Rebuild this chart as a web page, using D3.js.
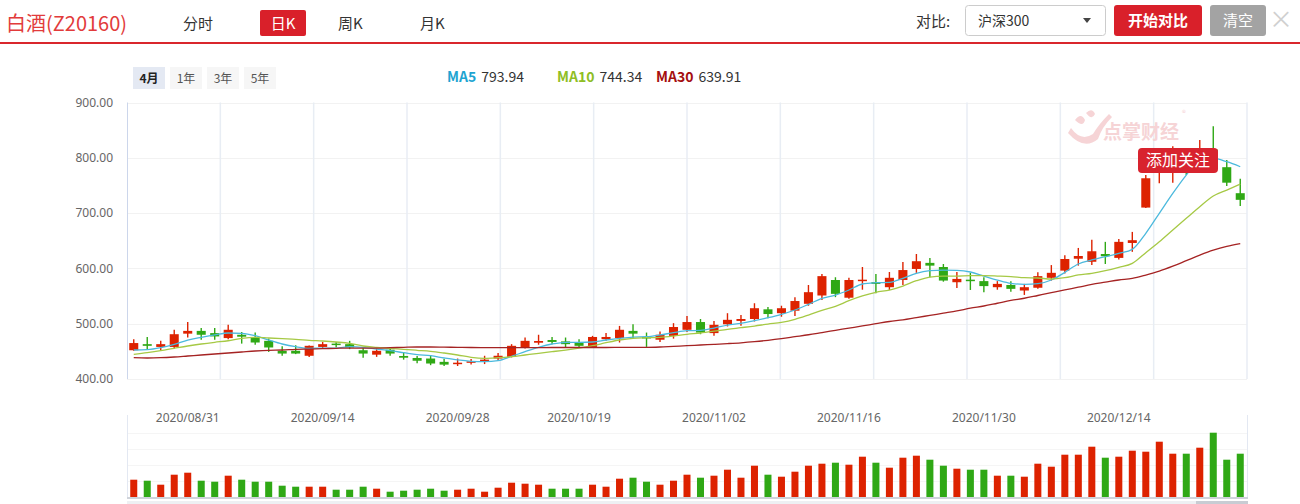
<!DOCTYPE html>
<html>
<head>
<meta charset="utf-8">
<script src="https://cdn.jsdelivr.net/npm/d3@7"></script>
<style>
body { margin: 0; background: #fff; font-family: "Noto Sans CJK SC", "Microsoft YaHei", sans-serif; }
svg { display: block; }
</style>
</head>
<body>
<svg width="1300" height="504"></svg>
<script>
// trading days shown (2020)
var dates = ["08/25","08/26","08/27","08/28","08/31",
    "09/01","09/02","09/03","09/04","09/07","09/08","09/09","09/10","09/11","09/14","09/15","09/16","09/17","09/18",
    "09/21","09/22","09/23","09/24","09/25","09/28","09/29","09/30",
    "10/09","10/12","10/13","10/14","10/15","10/16","10/19","10/20","10/21","10/22","10/23","10/26","10/27","10/28","10/29","10/30",
    "11/02","11/03","11/04","11/05","11/06","11/09","11/10","11/11","11/12","11/13","11/16","11/17","11/18","11/19","11/20",
    "11/23","11/24","11/25","11/26","11/27","11/30",
    "12/01","12/02","12/03","12/04","12/07","12/08","12/09","12/10","12/11","12/14","12/15","12/16","12/17","12/18",
    "12/21","12/22","12/23","12/24","12/25"];

var opens  = [452,463,458,458,482,487,483,474,480,475, 469,451,451,442,458,464,463,452,444,453,
              441.6,438,437,431,428.4,430,431,437,440,457, 465.6,470.5,468,466,458,472,474,487,476,471,
              478,489,503,483,499,505,508.5,526,519,523.5, 536,551,579,547,577,575,566,579,599,610,
              602.5,575,579.6,577,566,570,560,565,583,596, 617.5,612,626,619,646,710,780,785,812,790,
              815,783,736];
var closes = [465,460,463,481,487,480,477,489,476.5,466, 457,446,446,460,463,462,457,446,451,446,
              438.5,433,428,426,429.5,432,435,442,460,469, 468.7,467,463,460,476,476,489,482,474,480,
              494,503,484,498,507,508.5,528,517.5,528,541, 557,586,554,579,579.6,572,583,597,613,605,
              578,581,577.7,568,572,563,566,586,592,617, 622.4,631,622,648,651,763,805,810,785,812,
              790,755,724];
var highs  = [472,476,469,489,503,492,492,498,485,484, 473,459,461,460.5,467,467,469,457,455,458,
              448,441.6,443,436,437,436,442,447,463,475, 480,476,475,472,478,483,496,499,484,486,
              501,514,508.5,505,519,515.7,537,530,532.5,548, 570,590,584,583,602.5,590,593.5,611.5,626,619,
              608,593.5,592,584,577,576.6,572,593,606,624, 637,652,648,653,666,769,815,821,816,832,
              857,796,762];
var lows   = [451,454,452,455,475,471,471,472,464,462, 449,442,445,440,455.5,457,454,438.5,440,442,
              435,428.4,425,423.5,423.5,426,427,433,439,455, 462,463,457,457,457,469,466,473,458,467,
              473,485,481,478,495,496.4,504,510,512.6,514, 532.5,543,548,545,561.5,555,561,570,592,584,
              576,564.5,561,557,561.5,557.8,552,563,578,591, 605,606,608,616,630,709,754,755,769,780,
              785,749,713];
var volumes = [17.3,16.3,12.3,22.3,24.3,16.3,15.3,21.3,17.3,15.3, 15.3,11.3,10.3,10.3,10.3,7.3,7.3,10.3,8.3,5.3,
               6.3,7.3,8.3,6.3,7.3,8.3,5.3,9.3,14.3,13.3, 12.3,8.3,8.3,8.3,12.3,10.3,18.3,19.3,15.3,12.3,
               16.3,22.3,19.3,21.3,27.3,19.3,31.3,22.3,20.3,25.3, 31.3,33.3,34.3,32.3,40.3,34.3,29.3,39.3,41.3,37.3,
               31.3,28.3,27.3,27.3,21.3,21.3,20.3,33.3,30.3,42.3, 42.3,50.3,39.3,40.3,46.3,45.3,55.3,43.3,43.3,49.3,
               64.3,37.3,43.3];

var ma5  = [452.4,453,456.6,462.7,470.5,475.4,479.6,483.2,482.6,478.3, 470.5,463.3,458.4,455.5,456,456,458.4,457.3,454.2,451.2,
            447.6,444,442.1,438,434.4,432,431.3,433.1,441,449.4, 457.3,463.3,466.4,466.4,466.9,470.5,473.6,475.9,476.5,479.6,
            483.8,487.3,488,492.2,497.6,500.7,505.4,510.8,517,524.8, 535,545.9,551.8,560.9,571.8,574.1,574.8,582,591.1,595.8,
            597,596.5,593.5,586.2,579,573,571.2,572.3,579,592.9, 607.9,615.2,621.1,627.3,634.5,663.4,699.6,735.7,768.8,796,
            798.8,792.9,783.8];
var ma10 = [444.6,447.6,451.2,455.5,459.7,463.3,466.4,469.2,473.6,475.4, 474.1,472.9,471.8,470,468.7,466.9,464.5,459.7,457.3,455.5,
            453.7,451.9,450.1,447,443.4,439.2,437.4,438.5,440.3,443.4, 446.5,449.4,452.4,456,460.2,465.6,470.5,473.6,474.7,475.4,
            477.7,480.8,483.2,486.4,489.9,492.8,495.8,499.4,502.5,507.9, 515.7,524.2,531.4,541.6,550.1,556.8,560.9,568.1,577.7,584.4,
            586.2,586.2,586.8,586.8,586.2,585.3,583.2,582.6,580.8,583.2, 588.1,591.1,595.8,602,609.2,628.4,648.2,669.4,690.5,711.5,
            730.9,741.7,752.6];
var ma30 = [438.5,438,438.5,439.8,441.6,443.4,445.2,447,448.8,450.6, 451.9,452.4,453.7,454.2,454.8,455.5,456,456,456,456.6,
            457.3,457.9,457.9,457.6,457.3,457,456.8,456.6,456.6,456.6, 456.8,457,457,457,457,457,457.2,457.3,457.3,457.9,
            459.1,460.2,461.5,462.7,464,465.5,467.5,470,473,476.5, 480,484,488,492,496,500,504,507,511,515,
            519,523,528,532,537,542,546,551,556,561, 566,571,575,579,582,588,595,604,614,624,
            633,640,645];

var yTicks = [400, 500, 600, 700, 800, 900];
var dateTicks = ["08/31", "09/14", "09/28", "10/19", "11/02", "11/16", "11/30", "12/14"];
var maNames = ["MA5", "MA10", "MA30"];
var maLegendValues = ["793.94", "744.34", "639.91"];
var maSeries = [ma5, ma10, ma30];

var RED = "#dd2200", GREEN = "#2fa815";
var maText = ["#1ea4d1", "#8fbe24", "#a50f0f"],
    maLine = ["#4bb9dd", "#a6c945", "#a52323"];

var svg = d3.select("svg");

var left = 127, right = 1247;

var x = d3.scaleBand().domain(dates).range([left, right]).paddingInner(0.33).paddingOuter(0.165),
    xv = d3.scaleBand().domain(dates).range([left, right]).paddingInner(0.48).paddingOuter(0.24),
    y = d3.scaleLinear().domain([400, 900]).range([379, 102.5]),
    yv = d3.scaleLinear().domain([0, 80]).range([497, 417]);

function cx(d) { return x(d) + x.bandwidth() / 2; }

// ---------- header ----------
svg.append("text").attr("x", 6).attr("y", 31).attr("font-size", 20).attr("fill", "#e23b3b").text("白酒(Z20160)");
svg.append("text").attr("x", 183).attr("y", 29).attr("font-size", 15).attr("fill", "#333").text("分时");
svg.append("rect").attr("x", 260).attr("y", 10).attr("width", 46).attr("height", 26).attr("rx", 2).attr("fill", "#d9202a");
svg.append("text").attr("x", 283).attr("y", 29).attr("text-anchor", "middle").attr("font-size", 15).attr("fill", "#fff").text("日K");
svg.append("text").attr("x", 338).attr("y", 29).attr("font-size", 15).attr("fill", "#333").text("周K");
svg.append("text").attr("x", 420).attr("y", 29).attr("font-size", 15).attr("fill", "#333").text("月K");

svg.append("text").attr("x", 916).attr("y", 27).attr("font-size", 15).attr("fill", "#333").text("对比:");
svg.append("rect").attr("x", 965.5).attr("y", 5.5).attr("width", 140).attr("height", 30).attr("rx", 3)
    .attr("fill", "#fff").attr("stroke", "#ccc");
svg.append("text").attr("x", 978).attr("y", 26).attr("font-size", 14).attr("fill", "#333").text("沪深300");
svg.append("path").attr("d", "M1083,18L1091,18L1087,23Z").attr("fill", "#444");
svg.append("rect").attr("x", 1114).attr("y", 5).attr("width", 88).attr("height", 31).attr("rx", 3).attr("fill", "#d9202a");
svg.append("text").attr("x", 1158).attr("y", 26).attr("text-anchor", "middle").attr("font-size", 15)
    .attr("font-weight", "bold").attr("fill", "#fff").text("开始对比");
svg.append("rect").attr("x", 1210).attr("y", 5).attr("width", 56).attr("height", 31).attr("rx", 3).attr("fill", "#a3a3a3");
svg.append("text").attr("x", 1238).attr("y", 26).attr("text-anchor", "middle").attr("font-size", 15).attr("fill", "#fff").text("清空");
svg.append("text").attr("x", 1281).attr("y", 28).attr("text-anchor", "middle").attr("font-size", 24).attr("fill", "#d0d0d0").text("×");

svg.append("rect").attr("x", 0).attr("y", 42).attr("width", 1300).attr("height", 2).attr("fill", "#d9262c");

// range buttons
var ranges = ["4月", "1年", "3年", "5年"];
var rb = svg.append("g").selectAll("g").data(ranges).enter().append("g")
    .attr("transform", function(d, i) { return "translate(" + (133 + i * 37) + ",67)"; });
rb.append("rect").attr("width", 32).attr("height", 22)
    .attr("fill", function(d, i) { return i == 0 ? "#e4e9f3" : "#f6f6f6"; });
rb.append("text").attr("x", 16).attr("y", 15.5).attr("text-anchor", "middle").attr("font-size", 12)
    .attr("font-weight", function(d, i) { return i == 0 ? "bold" : "normal"; })
    .attr("fill", function(d, i) { return i == 0 ? "#222" : "#555"; })
    .text(function(d) { return d; });

// MA legend
var legX = [447, 557, 656];
maNames.forEach(function(n, i) {
    var t = svg.append("text").attr("x", legX[i]).attr("y", 82).attr("font-size", 14);
    t.append("tspan").attr("fill", maText[i]).attr("font-weight", "bold").text(n);
    t.append("tspan").attr("fill", "#333").attr("dx", 5).text(maLegendValues[i]);
});

// ---------- main chart grid ----------
var g = svg.append("g");

g.selectAll(".hgrid").data(yTicks).enter().append("line")
    .attr("x1", left).attr("x2", right)
    .attr("y1", function(d) { return Math.round(y(d)) + 0.5; })
    .attr("y2", function(d) { return Math.round(y(d)) + 0.5; })
    .attr("stroke", "#f2f2f2");

g.selectAll(".vgrid").data(d3.range(1, 13)).enter().append("line")
    .attr("x1", function(i) { return left + i * (right - left) / 12; })
    .attr("x2", function(i) { return left + i * (right - left) / 12; })
    .attr("y1", y(900)).attr("y2", y(400))
    .attr("stroke", "#e8edf4").attr("stroke-width", 1.5);

g.append("line").attr("x1", left + 0.5).attr("x2", left + 0.5).attr("y1", y(900)).attr("y2", y(400))
    .attr("stroke", "#ccd6eb");

var yAxis = g.append("g").attr("transform", "translate(" + left + ",0)")
    .call(d3.axisLeft(y).tickValues(yTicks).tickFormat(d3.format(".2f")).tickSize(0).tickPadding(14));
yAxis.select(".domain").remove();
yAxis.selectAll("text").attr("font-size", 12).attr("fill", "#666")
    .attr("font-family", "'Noto Sans', 'DejaVu Sans', sans-serif");

// watermark
var wm = svg.append("g").attr("fill", "#f6d4d6");
wm.append("path").attr("d", "M1075,120 q6,-8 10,0 q-2,8 -10,0Z M1086,113 q6,-6 9,1 q-3,7 -9,-1Z");
wm.append("path").attr("d", "M1071,128 q10,14 22,6 q6,-10 16,-20 l3,3 q-10,10 -14,22 q-14,12 -30,-6Z");
wm.append("text").attr("x", 1103).attr("y", 139).attr("font-size", 19).attr("font-weight", "bold").text("点掌财经");
wm.append("text").attr("x", 1182).attr("y", 116).attr("font-size", 8).text("®");

// ---------- candles ----------
var candles = dates.map(function(d, i) {
    return { date: d, o: opens[i], c: closes[i], h: highs[i], l: lows[i], v: volumes[i] };
});
function col(d) { return d.c >= d.o ? RED : GREEN; }

var cg = g.selectAll(".candle").data(candles).enter().append("g").attr("class", "candle");
cg.append("line")
    .attr("x1", function(d) { return cx(d.date); })
    .attr("x2", function(d) { return cx(d.date); })
    .attr("y1", function(d) { return y(d.h); })
    .attr("y2", function(d) { return y(d.l); })
    .attr("stroke", col).attr("stroke-width", 1.4);
cg.append("rect")
    .attr("x", function(d) { return x(d.date); })
    .attr("width", x.bandwidth())
    .attr("y", function(d) { return y(Math.max(d.o, d.c)); })
    .attr("height", function(d) { return Math.max(1.5, Math.abs(y(d.o) - y(d.c))); })
    .attr("fill", col);

// MA lines
var line = d3.line().curve(d3.curveMonotoneX)
    .x(function(d, i) { return cx(dates[i]); })
    .y(function(d) { return y(d); });

maSeries.forEach(function(s, i) {
    g.append("path").attr("d", line(s)).attr("fill", "none")
        .attr("stroke", maLine[i]).attr("stroke-width", 1.3);
});

// follow tag
svg.append("rect").attr("x", 1138).attr("y", 148).attr("width", 80).attr("height", 25).attr("rx", 4).attr("fill", "#d8232e");
svg.append("text").attr("x", 1178).attr("y", 166).attr("text-anchor", "middle").attr("font-size", 16)
    .attr("fill", "#fff").text("添加关注");

// ---------- volume ----------
var vg = svg.append("g");

vg.selectAll(".vgridline").data([16, 32, 48, 64]).enter().append("line")
    .attr("x1", left).attr("x2", right + 1)
    .attr("y1", function(d) { return Math.round(yv(d)) + 0.5; })
    .attr("y2", function(d) { return Math.round(yv(d)) + 0.5; })
    .attr("stroke", "#f5f5f5");
vg.append("line").attr("x1", left + 0.5).attr("x2", left + 0.5).attr("y1", 415).attr("y2", 497).attr("stroke", "#e3e8f2");
vg.append("line").attr("x1", right + 0.5).attr("x2", right + 0.5).attr("y1", 415).attr("y2", 497).attr("stroke", "#e3e8f2");

vg.selectAll(".vol").data(candles).enter().append("rect")
    .attr("x", function(d) { return xv(d.date); })
    .attr("width", xv.bandwidth())
    .attr("y", function(d) { return yv(d.v); })
    .attr("height", function(d) { return yv(0) - yv(d.v); })
    .attr("fill", col);

vg.append("rect").attr("x", left).attr("y", 497).attr("width", right - left + 1).attr("height", 2).attr("fill", "#cfd3da");
vg.append("rect").attr("x", left).attr("y", 501).attr("width", right - left + 1).attr("height", 3).attr("fill", "#eef0f3");
vg.append("rect").attr("x", 1196).attr("y", 501).attr("width", right - 1196 + 1).attr("height", 3).attr("fill", "#c8ccd3");

vg.selectAll(".dlabel").data(dateTicks).enter().append("text")
    .attr("x", function(d) { return cx(d); })
    .attr("y", 422)
    .attr("text-anchor", "middle")
    .attr("font-size", 12)
    .attr("fill", "#666")
    .attr("font-family", "'Noto Sans', 'DejaVu Sans', sans-serif")
    .text(function(d) { return "2020/" + d; });
</script>
</body>
</html>
